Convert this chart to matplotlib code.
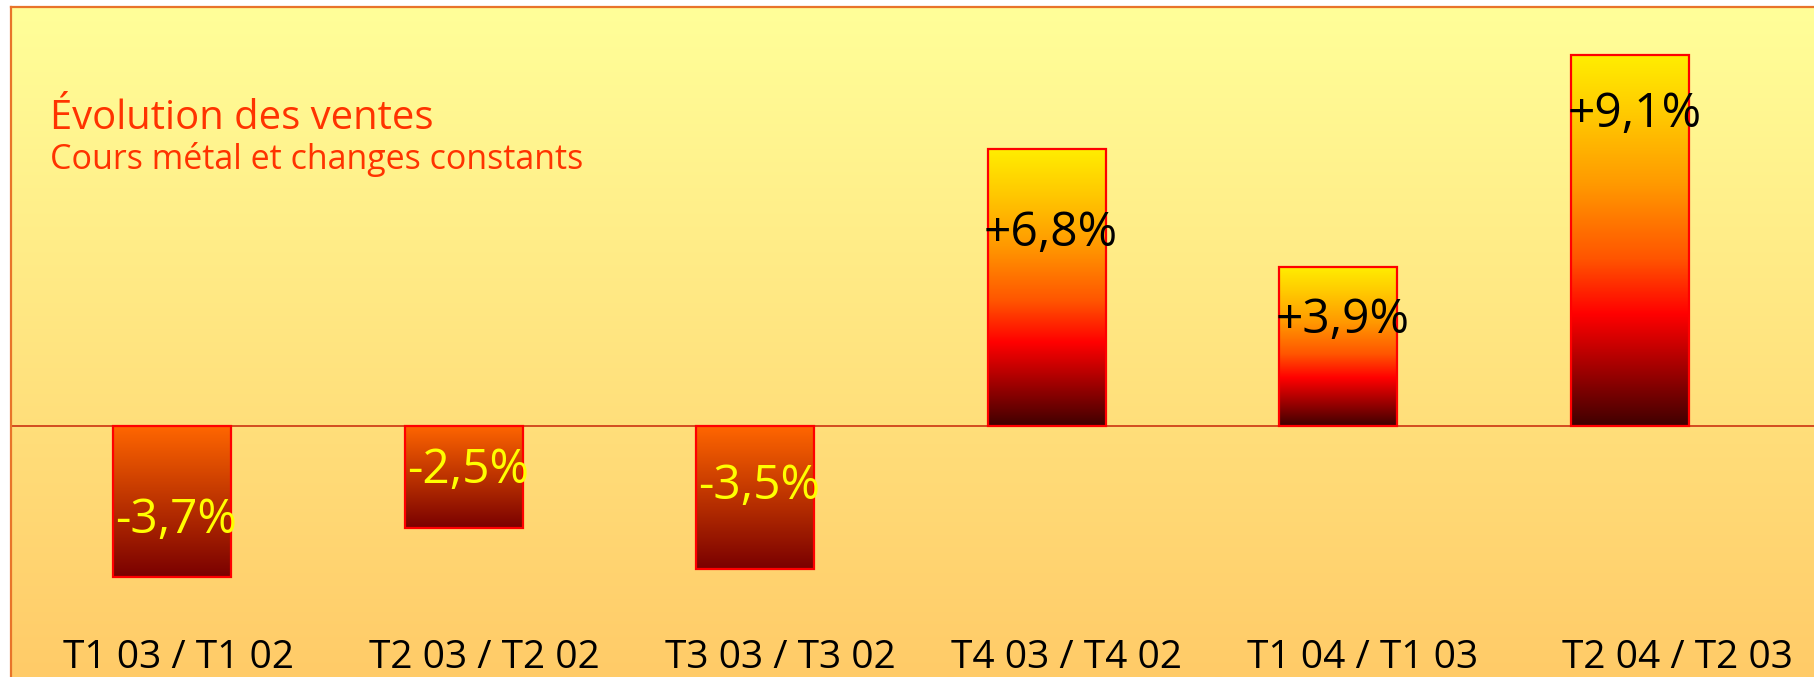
import numpy as np
import matplotlib.pyplot as plt
from matplotlib.colors import LinearSegmentedColormap
import matplotlib.transforms as mtransforms

# Evolution des ventes, par trimestre (en %)
categories = ["T1 03 / T1 02", "T2 03 / T2 02", "T3 03 / T3 02",
              "T4 03 / T4 02", "T1 04 / T1 03", "T2 04 / T2 03"]
values = [-3.7, -2.5, -3.5, 6.8, 3.9, 9.1]
value_labels = ["-3,7%", "-2,5%", "-3,5%", "+6,8%", "+3,9%", "+9,1%"]
title = "Évolution des ventes"
subtitle = "Cours métal et changes constants"

plt.rcParams['font.family'] = ['Open Sans', 'DejaVu Sans']

W, H = 1814, 677
fig = plt.figure(figsize=(W / 100, H / 100), dpi=100)
ax = fig.add_axes([11 / W, 0, 1 - 11 / W, (H - 7) / H])

# Echelle: ~291.6 px par categorie, ~40.8 px par point de %
x = np.arange(len(values))
xlim = ((11 - 172) / 291.6, (W - 172) / 291.6)
ylim = (-(H - 426) / 40.8, (426 - 7) / 40.8)

# fond en degrade
bg = LinearSegmentedColormap.from_list("bg", ["#FFCB68", "#FFFF99"])
grad = np.linspace(0, 1, 256).reshape(-1, 1)
ax.imshow(grad, extent=[xlim[0], xlim[1], ylim[0], ylim[1]], origin="lower",
          aspect="auto", cmap=bg, zorder=0)

pos_cmap = LinearSegmentedColormap.from_list(
    "pos", [(0, "#400000"), (0.3, "#FF0000"), (0.45, "#FF5500"),
            (0.65, "#FF9900"), (0.85, "#FFCC00"), (1, "#FFEE00")])
neg_cmap = LinearSegmentedColormap.from_list("neg", ["#7A0000", "#FF6600"])

bw = 0.405
bars = ax.bar(x, values, width=bw, facecolor="none", edgecolor="#FF0000",
              linewidth=1.6, zorder=3)
for xi, v, b in zip(x, values, bars):
    cm = pos_cmap if v > 0 else neg_cmap
    im = ax.imshow(grad, extent=[xi - bw / 2, xi + bw / 2, min(v, 0), max(v, 0)],
                   origin="lower", aspect="auto", cmap=cm, zorder=2)
    im.set_clip_path(b)

ax.axhline(0, color="#CC3311", linewidth=1.2, zorder=1)

# etiquettes de valeur
label_y = [-2.3, -1.08, -1.47, 4.73, 2.60, 7.65]
for xi, v, lab, ly in zip(x, values, value_labels, label_y):
    ax.text(xi + 0.015, ly, lab, ha="center", va="center", fontsize=34.5,
            color="black" if v > 0 else "#FFFF00", zorder=4)

# etiquettes des categories (legerement decalees comme dans l'original)
cat_shift = [0.023, 0.071, 0.088, 0.069, 0.082, 0.163]
trans = mtransforms.blended_transform_factory(ax.transData, fig.transFigure)
for xi, cat, dx in zip(x, categories, cat_shift):
    ax.text(xi + dx, 1 - 668 / H, cat, transform=trans, ha="center",
            va="baseline", fontsize=28, color="black", zorder=4)

fig.text(50 / W, 1 - 129 / H, title, fontsize=28.8, color="#FF3300", va="baseline")
fig.text(50 / W, 1 - 169 / H, subtitle, fontsize=24.5, color="#FF3300", va="baseline")

ax.set_xlim(xlim)
ax.set_ylim(ylim)
ax.set_xticks([])
ax.set_yticks([])
for s in ["right", "bottom"]:
    ax.spines[s].set_visible(False)
for s in ["left", "top"]:
    ax.spines[s].set_color("#E8742A")
    ax.spines[s].set_linewidth(1.6)

fig.savefig("out.png", dpi=100)
